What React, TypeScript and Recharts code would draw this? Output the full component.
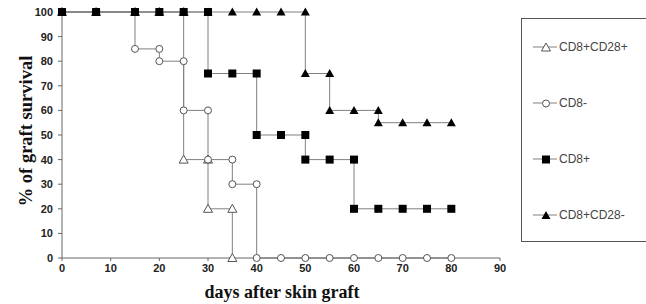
import React from "react";
import { LineChart, Line, XAxis, YAxis, Legend } from "recharts";

const xTicks = [0, 10, 20, 30, 40, 50, 60, 70, 80, 90];
const yTicks = [0, 10, 20, 30, 40, 50, 60, 70, 80, 90, 100];

// CD8+CD28+ (open triangles)
const posPosDays = [0, 7, 15, 20, 25, 25, 30, 30, 35, 35];
const posPosSurv = [100, 100, 100, 100, 100, 40, 40, 20, 20, 0];

// CD8- (open circles)
const negDays = [0, 7, 15, 15, 20, 20, 25, 25, 30, 30, 35, 35, 40, 40, 45, 50, 55, 60, 65, 70, 75, 80];
const negSurv = [100, 100, 100, 85, 85, 80, 80, 60, 60, 40, 40, 30, 30, 0, 0, 0, 0, 0, 0, 0, 0, 0];

// CD8+ (filled squares)
const posDays = [0, 7, 15, 20, 25, 30, 30, 35, 40, 40, 45, 50, 50, 55, 60, 60, 65, 70, 75, 80];
const posSurv = [100, 100, 100, 100, 100, 100, 75, 75, 75, 50, 50, 50, 40, 40, 40, 20, 20, 20, 20, 20];

// CD8+CD28- (filled triangles)
const posNegDays = [0, 7, 15, 20, 25, 30, 35, 40, 45, 50, 50, 55, 55, 60, 65, 65, 70, 75, 80];
const posNegSurv = [100, 100, 100, 100, 100, 100, 100, 100, 100, 100, 75, 75, 60, 60, 60, 55, 55, 55, 55];

const toPoints = (days: number[], surv: number[]) =>
  days.map((d, i) => ({ day: d, surv: surv[i] }));

type Shape = "openTri" | "circle" | "square" | "tri";

const LINE = "#808080";
const MARK = "#555";

function Marker({ shape, cx, cy }: { shape: Shape; cx: number; cy: number }) {
  if (shape === "square") {
    return <rect x={cx - 4} y={cy - 4} width={8} height={8} fill="#000" />;
  }
  if (shape === "circle") {
    return <circle cx={cx} cy={cy} r={3.5} fill="#fff" stroke={MARK} strokeWidth={1} />;
  }
  const pts = `${cx},${cy - 4.5} ${cx + 4.5},${cy + 3.5} ${cx - 4.5},${cy + 3.5}`;
  if (shape === "tri") return <polygon points={pts} fill="#000" />;
  return <polygon points={pts} fill="#fff" stroke={MARK} strokeWidth={1} />;
}

const dotFor = (shape: Shape) => (props: any) => (
  <g key={`${shape}-${props.index}`}>
    <Marker shape={shape} cx={props.cx} cy={props.cy} />
  </g>
);

const series: { name: string; shape: Shape; data: { day: number; surv: number }[] }[] = [
  { name: "CD8+CD28-", shape: "tri", data: toPoints(posNegDays, posNegSurv) },
  { name: "CD8+CD28+", shape: "openTri", data: toPoints(posPosDays, posPosSurv) },
  { name: "CD8-", shape: "circle", data: toPoints(negDays, negSurv) },
  { name: "CD8+", shape: "square", data: toPoints(posDays, posSurv) },
];

const legendOrder = ["CD8+CD28+", "CD8-", "CD8+", "CD8+CD28-"];

function LegendBox() {
  return (
    <div
      style={{
        width: 140,
        height: 224,
        border: "1px solid #555",
        boxSizing: "border-box",
        background: "#fff",
      }}
    >
      {legendOrder.map((name) => {
        const s = series.find((x) => x.name === name)!;
        return (
          <div
            key={name}
            style={{ height: 56, display: "flex", alignItems: "center", paddingLeft: 11 }}
          >
            <svg width={25} height={12} style={{ display: "block" }}>
              <line x1={0} y1={6} x2={24} y2={6} stroke={LINE} strokeWidth={1} />
              <Marker shape={s.shape} cx={13} cy={6.5} />
            </svg>
            <span
              style={{
                fontFamily: "Arial, 'Liberation Sans', sans-serif",
                fontSize: 12,
                color: "#444",
                marginLeft: 1,
              }}
            >
              {name}
            </span>
          </div>
        );
      })}
    </div>
  );
}

const tickStyle = {
  fontFamily: "Arial, 'Liberation Sans', sans-serif",
  fontSize: 11,
  fontWeight: 700,
  fill: "#222",
};

const titleFont = "'Times New Roman', 'Liberation Serif', serif";

export default function App() {
  return (
    <div style={{ position: "absolute", left: 0, top: 0, width: 646, height: 304, background: "#fff" }}>
      <LineChart width={646} height={304} margin={{ top: 12, right: 146, bottom: 0, left: 22 }}>
        <XAxis
          dataKey="day"
          type="number"
          domain={[0, 90]}
          ticks={xTicks}
          allowDuplicatedCategory={false}
          height={46}
          tick={tickStyle}
          tickSize={3}
          tickMargin={3}
          stroke="#666"
          label={{
            content: ({ viewBox }: any) => (
              <text
                x={viewBox.x + viewBox.width / 2 + 1}
                y={viewBox.y + 40}
                textAnchor="middle"
                fontFamily={titleFont}
                fontWeight={700}
                fontSize={18}
                fill="#111"
              >
                days after skin graft
              </text>
            ),
          }}
        />
        <YAxis
          dataKey="surv"
          type="number"
          domain={[0, 100]}
          ticks={yTicks}
          width={40}
          tick={tickStyle}
          tickSize={4}
          tickMargin={5}
          stroke="#666"
          label={{
            content: ({ viewBox }: any) => {
              const x = viewBox.x + 4;
              const y = viewBox.y + viewBox.height / 2 - 4;
              return (
                <text
                  x={x}
                  y={y}
                  transform={`rotate(-90 ${x} ${y})`}
                  textAnchor="middle"
                  dominantBaseline="central"
                  fontFamily={titleFont}
                  fontWeight={700}
                  fontSize={18.5}
                  fill="#111"
                >
                  % of graft survival
                </text>
              );
            },
          }}
        />
        <Legend
          layout="vertical"
          align="center"
          verticalAlign="middle"
          wrapperStyle={{ left: 521, top: 18, width: 140, height: 224 }}
          content={() => <LegendBox />}
        />
        {series.map((s) => (
          <Line
            key={s.name}
            name={s.name}
            data={s.data}
            dataKey="surv"
            type="linear"
            stroke={LINE}
            strokeWidth={1}
            dot={dotFor(s.shape)}
            activeDot={false}
            isAnimationActive={false}
          />
        ))}
      </LineChart>
    </div>
  );
}
